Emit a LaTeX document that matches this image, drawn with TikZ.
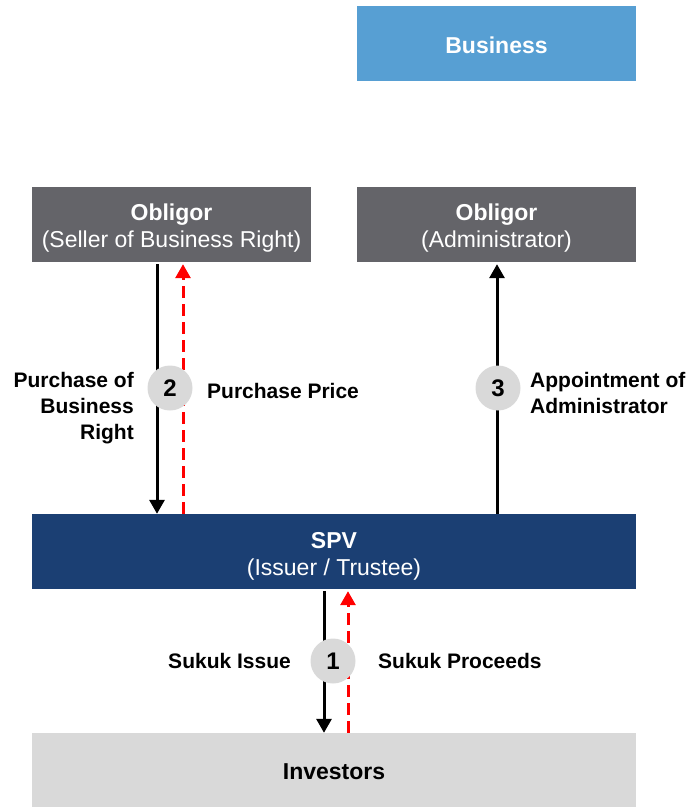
\documentclass[tikz,border=0pt]{standalone}
\usepackage{fontspec}
\setmainfont{Liberation Sans}
\usetikzlibrary{arrows.meta}
\definecolor{bizblue}{HTML}{579FD3}
\definecolor{obgrey}{HTML}{646469}
\definecolor{spvblue}{HTML}{1B3F73}
\definecolor{invgrey}{HTML}{D9D9D9}
\definecolor{stepgrey}{HTML}{D9D9D9}
\definecolor{flowred}{HTML}{FF0000}
\begin{document}
\begin{tikzpicture}[x=1pt,y=-1pt,
  boxtxt/.style={font=\fontsize{23}{27}\selectfont, align=center, inner sep=0pt},
  box/.style={rectangle, inner sep=0pt, minimum height=75pt},
  labeltxt/.style={font=\fontsize{21}{26}\selectfont\bfseries, inner sep=0pt},
  stepnum/.style={circle, fill=stepgrey, minimum size=45pt, inner sep=0pt,
    font=\fontsize{24}{24}\selectfont\bfseries},
  goods/.style={line width=3pt, -{Triangle[width=15pt,length=14pt]}},
  cash/.style={line width=3pt, flowred, dash pattern=on 12pt off 6pt,
    -{Triangle[width=15pt,length=14pt]}}]
\useasboundingbox (0,0) rectangle (687,807);

% parties
\node[box, fill=bizblue, minimum width=279pt] (biz) at (496.5,43.5) {};
\node[box, fill=obgrey, minimum width=279pt] (oblL) at (171.5,224.5) {};
\node[box, fill=obgrey, minimum width=279pt] (oblR) at (496.5,224.5) {};
\node[box, fill=spvblue, minimum width=604pt] (spv) at (334,551.5) {};
\node[box, fill=invgrey, minimum width=604pt, minimum height=74pt] (inv) at (334,770) {};

% party captions, set a little below centre
\node[boxtxt, text=white] (bizT) at ([yshift=-2pt]biz.center) {\textbf{Business}};
\node[boxtxt, text=white] (oblLT) at ([yshift=-4pt]oblL.center)
  {\textbf{Obligor}\\(Seller of Business Right)};
\node[boxtxt, text=white] (oblRT) at ([yshift=-4pt]oblR.center)
  {\textbf{Obligor}\\(Administrator)};
\node[boxtxt, text=white] (spvT) at ([yshift=-5pt]spv.center)
  {\textbf{SPV}\\(Issuer / Trustee)};
\node[boxtxt] (invT) at ([yshift=-2pt]inv.center) {\textbf{Investors}};

% flow columns
\coordinate (xA) at (157,0);
\coordinate (xB) at (183,0);
\coordinate (xC) at (497,0);
\coordinate (xD) at (324,0);
\coordinate (xE) at (348,0);

% step 2: purchase of the business right
\draw[goods] ([yshift=-2pt]oblL.south -| xA) -- (spv.north -| xA);
\draw[cash] (spv.north -| xB) -- ([yshift=-2pt]oblL.south -| xB);
% step 3: appointment of administrator
\draw[goods] (spv.north -| xC) -- ([yshift=-2pt]oblR.south -| xC);
% step 1: issue of sukuk
\draw[goods] ([yshift=-2pt]spv.south -| xD) -- (inv.north -| xD);
\draw[cash] (inv.north -| xE) -- ([yshift=-2pt]spv.south -| xE);

% step markers
\node[stepnum] (s2) at (170,388) {2};
\node[stepnum] (s3) at (498,388) {3};
\node[stepnum] (s1) at (333,661) {1};

% flow labels
\node[labeltxt, anchor=east, align=right] (lPB) at (134,408) {Purchase of\\Business\\Right};
\node[labeltxt, anchor=west] (lPP) at (207,391) {Purchase Price};
\node[labeltxt, anchor=west, align=left] (lAA) at (530,393) {Appointment of\\Administrator};
\node[labeltxt, anchor=east] (lSI) at (291,661) {Sukuk Issue};
\node[labeltxt, anchor=west] (lSP) at (378,661) {Sukuk Proceeds};
\end{tikzpicture}
\end{document}
